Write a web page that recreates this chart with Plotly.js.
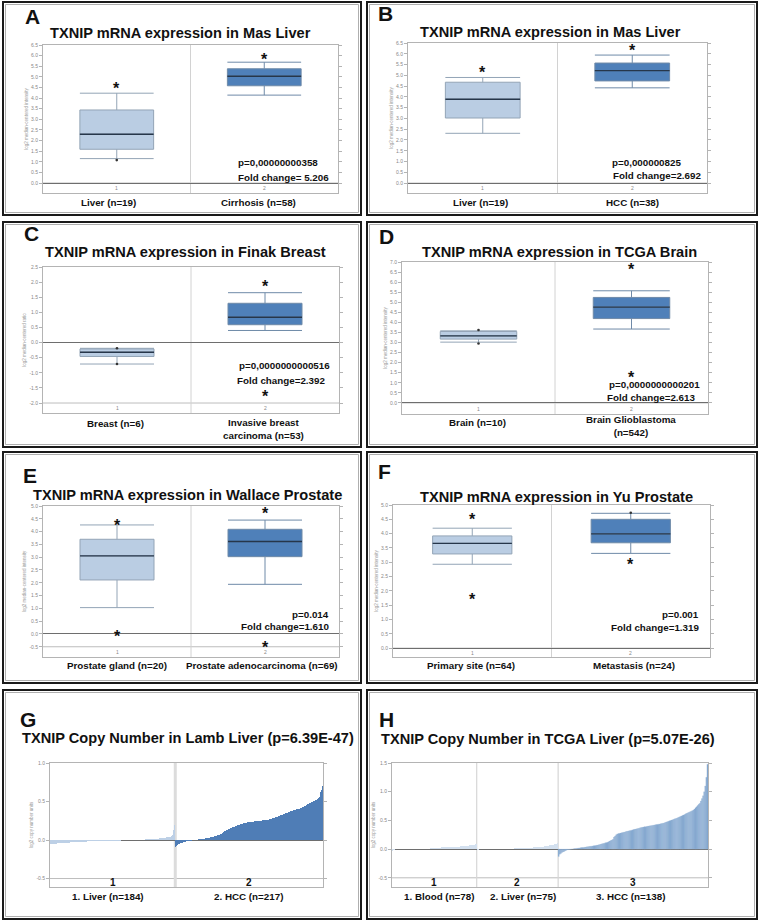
<!DOCTYPE html>
<html><head><meta charset="utf-8">
<script src="https://cdn.plot.ly/plotly-3.0.1.min.js"></script>
<style>html,body{margin:0;padding:0;background:#fff}#chart{width:760px;height:923px}</style>
</head><body><div id="chart"></div>
<script>
// ---------------- DATA ----------------
// Panel A: Mas Liver (Liver vs Cirrhosis)
const A_title = 'TXNIP mRNA expression in Mas Liver';
const A_cats = ['Liver (n=19)', 'Cirrhosis (n=58)'];
const A_low = [1.15, 4.14], A_q1 = [1.59, 4.58], A_med = [2.30, 5.03], A_q3 = [3.44, 5.38], A_high = [4.23, 5.69];
const A_starX = [1, 2], A_starY = [4.58, 5.96];
const A_dotX = [1], A_dotY = [1.08];
const A_p = 'p=0,00000000358', A_fc = 'Fold change= 5.206';
const A_ticks = [0, 0.5, 1, 1.5, 2, 2.5, 3, 3.5, 4, 4.5, 5, 5.5, 6, 6.5];

// Panel B: Mas Liver (Liver vs HCC)
const B_title = 'TXNIP mRNA expression in Mas Liver';
const B_cats = ['Liver (n=19)', 'HCC (n=38)'];
const B_low = [2.31, 4.42], B_q1 = [3.02, 4.74], B_med = [3.89, 5.22], B_q3 = [4.68, 5.57], B_high = [4.90, 5.94];
const B_starX = [1, 2], B_starY = [5.29, 6.27];
const B_dotX = [], B_dotY = [];
const B_p = 'p=0,000000825', B_fc = 'Fold change=2.692';
const B_ticks = [0, 0.5, 1, 1.5, 2, 2.5, 3, 3.5, 4, 4.5, 5, 5.5, 6, 6.5];

// Panel C: Finak Breast
const C_title = 'TXNIP mRNA expression in Finak Breast';
const C_cats = ['Breast (n=6)', 'Invasive breast<br>carcinoma (n=53)'];
const C_low = [-0.71, 0.40], C_q1 = [-0.46, 0.59], C_med = [-0.32, 0.84], C_q3 = [-0.21, 1.30], C_high = [-0.19, 1.65];
const C_starX = [2, 2], C_starY = [1.94, -1.70];
const C_dotX = [1, 1], C_dotY = [-0.19, -0.71];
const C_p = 'p=0,0000000000516', C_fc = 'Fold change=2.392';
const C_ticks = [-2, -1.5, -1, -0.5, 0, 0.5, 1, 1.5, 2, 2.5];

// Panel D: TCGA Brain
const D_title = 'TXNIP mRNA expression in TCGA Brain';
const D_cats = ['Brain (n=10)', 'Brain Glioblastoma<br>(n=542)'];
const D_low = [3.02, 3.67], D_q1 = [3.17, 4.19], D_med = [3.33, 4.76], D_q3 = [3.55, 5.24], D_high = [3.58, 5.57];
const D_starX = [2, 2], D_starY = [6.78, 1.39];
const D_dotX = [1, 1], D_dotY = [3.62, 2.95];
const D_p = 'p=0,0000000000201', D_fc = 'Fold change=2.613';
const D_ticks = [0, 0.5, 1, 1.5, 2, 2.5, 3, 3.5, 4, 4.5, 5, 5.5, 6, 6.5, 7];

// Panel E: Wallace Prostate
const E_title = 'TXNIP mRNA expression in Wallace Prostate';
const E_cats = ['Prostate gland (n=20)', 'Prostate adenocarcinoma (n=69)'];
const E_low = [1.03, 1.94], E_q1 = [2.11, 3.02], E_med = [3.05, 3.61], E_q3 = [3.70, 4.09], E_high = [4.26, 4.45];
const E_starX = [1, 1, 2, 2], E_starY = [4.36, 0.03, 4.84, -0.43];
const E_dotX = [], E_dotY = [];
const E_p = 'p=0.014', E_fc = 'Fold change=1.610';
const E_ticks = [-0.5, 0, 0.5, 1, 1.5, 2, 2.5, 3, 3.5, 4, 4.5, 5];

// Panel F: Yu Prostate
const F_title = 'TXNIP mRNA expression in Yu Prostate';
const F_cats = ['Primary site (n=64)', 'Metastasis (n=24)'];
const F_low = [2.93, 3.31], F_q1 = [3.29, 3.68], F_med = [3.66, 3.99], F_q3 = [3.92, 4.50], F_high = [4.19, 4.71];
const F_starX = [1, 1, 2], F_starY = [4.59, 1.79, 3.02];
const F_dotX = [2], F_dotY = [4.73];
const F_p = 'p=0.001', F_fc = 'Fold change=1.319';
const F_ticks = [0, 0.5, 1, 1.5, 2, 2.5, 3, 3.5, 4, 4.5, 5];

// Panel G: Lamb Liver copy number (sorted per sample)
const G_title = 'TXNIP Copy Number in Lamb Liver (p=6.39E-47)';
const G_groups = ['1. Liver (n=184)', '2. HCC (n=217)'];
const G_liver = [
 -0.055,-0.053,-0.052,-0.051,-0.050,-0.049,-0.048,-0.047,-0.046,-0.046,-0.045,-0.044,-0.043,-0.042,-0.041,-0.041,-0.040,-0.039,-0.038,-0.038,-0.037,-0.036,-0.036,-0.035,
 -0.035,-0.034,-0.034,-0.033,-0.033,-0.032,-0.032,-0.031,-0.030,-0.030,-0.029,-0.029,-0.028,-0.028,-0.027,-0.027,-0.026,-0.026,-0.025,-0.025,-0.024,-0.024,-0.023,-0.023,-0.022,
 -0.022,-0.022,-0.021,-0.021,-0.020,-0.020,-0.019,-0.019,-0.019,-0.018,-0.018,-0.017,-0.017,-0.017,-0.016,-0.016,-0.015,-0.015,-0.015,-0.014,-0.014,-0.014,-0.013,-0.013,
 -0.013,-0.013,-0.013,-0.012,-0.012,-0.012,-0.012,-0.012,-0.011,-0.011,-0.011,-0.011,-0.011,-0.010,-0.010,-0.010,-0.010,-0.010,-0.010,-0.009,-0.009,-0.009,-0.009,-0.009,-0.009,
 -0.008,-0.008,-0.008,-0.007,-0.007,-0.007,-0.006,-0.006,-0.006,-0.005,-0.005,-0.005,-0.004,-0.004,-0.004,-0.003,-0.003,-0.003,-0.002,-0.002,-0.002,-0.001,-0.001,0.000,
 0.000,0.001,0.001,0.001,0.002,0.002,0.002,0.003,0.003,0.003,0.004,0.004,0.005,0.005,0.005,0.006,0.006,0.007,0.007,0.008,0.008,0.009,0.009,0.010,
 0.010,0.011,0.011,0.012,0.012,0.013,0.014,0.014,0.015,0.016,0.016,0.017,0.018,0.019,0.020,
 0.021,0.022,0.023,0.024,0.025,0.026,0.027,0.029,0.030,0.031,0.033,0.035,
 0.036,0.038,0.040,0.042,0.045,
 0.050,0.070,0.090,0.130,0.200,0.330];
const G_hcc = [
 -0.085,-0.075,-0.068,-0.062,-0.057,-0.052,-0.048,-0.044,-0.040,-0.037,-0.034,-0.031,-0.028,-0.025,-0.023,-0.021,
 -0.019,-0.017,-0.015,-0.013,-0.012,-0.010,-0.009,-0.007,-0.006,-0.005,-0.003,-0.002,-0.001,0.000,0.002,0.003,0.005,0.006,0.008,0.009,
 0.010,0.012,0.013,0.015,0.016,0.018,0.019,0.021,0.022,0.024,0.025,0.027,0.028,0.030,0.032,0.033,0.035,0.037,0.039,
 0.040,0.043,0.046,0.049,0.052,0.055,0.058,0.061,0.064,0.067,
 0.070,0.077,0.084,0.090,0.096,0.102,0.108,0.114,0.120,0.126,
 0.130,0.134,0.138,0.142,0.146,0.150,0.154,0.158,0.162,0.166,
 0.170,0.174,0.178,0.181,0.185,0.188,0.192,0.195,0.198,0.201,0.204,0.207,0.210,0.213,0.217,
 0.220,0.222,0.223,0.225,0.226,0.227,0.228,0.230,0.231,0.232,0.234,0.235,0.237,0.239,
 0.240,0.241,0.242,0.243,0.244,0.245,0.246,0.247,0.248,0.249,0.250,0.251,0.252,0.253,0.254,0.255,0.256,0.257,0.258,0.259,
 0.260,0.263,0.266,0.268,0.271,0.274,0.276,0.279,0.282,0.284,0.287,0.290,0.293,0.296,0.298,
 0.300,0.304,0.308,0.312,0.316,0.319,0.323,0.327,0.331,0.335,0.338,0.342,0.346,0.350,0.354,0.357,0.361,0.365,0.368,
 0.370,0.373,0.376,0.378,0.381,0.384,0.386,0.389,0.392,0.394,0.397,0.400,0.403,0.405,0.408,
 0.410,0.415,0.420,0.424,0.429,0.434,0.438,0.443,0.448,0.452,0.457,0.462,0.466,0.471,0.476,
 0.480,0.485,0.490,0.495,0.500,0.505,0.510,0.515,0.520,0.525,0.530,0.535,
 0.540,0.560,0.590,0.620,0.650,0.680,0.700];
const G_ticks = [-0.5, 0, 0.5, 1];

// Panel H: TCGA Liver copy number
const H_title = 'TXNIP Copy Number in TCGA Liver (p=5.07E-26)';
const H_groups = ['1. Blood (n=78)', '2. Liver (n=75)', '3. HCC (n=138)'];
const H_blood = [
 -0.035,-0.020,-0.010,-0.006,-0.004,-0.002,
 -0.001,0.000,0.000,0.000,0.001,0.001,0.001,0.001,0.002,0.002,0.002,0.002,0.003,0.003,0.003,0.003,0.003,0.004,0.004,0.004,0.004,0.005,0.005,0.005,0.005,0.005,
 0.006,0.008,0.010,0.012,0.013,0.015,0.017,0.018,0.020,0.022,0.024,0.025,0.027,0.029,
 0.030,0.031,0.031,0.032,0.033,0.033,0.034,0.035,0.035,0.036,0.037,0.038,0.038,0.039,
 0.040,0.042,0.044,0.046,0.048,0.050,0.053,0.055,0.057,0.060,0.062,
 0.065,0.068,0.071,0.074,0.078,0.082,0.088];
const H_liver = [
 -0.010,-0.007,-0.005,-0.004,-0.003,-0.002,-0.002,-0.001,-0.001,0.000,
 0.000,0.000,0.001,0.001,0.001,0.001,0.002,0.002,0.002,0.002,0.003,0.003,0.003,0.003,0.004,0.004,0.004,0.005,
 0.005,0.006,0.007,0.008,0.009,0.010,0.011,0.012,0.013,0.014,0.015,0.016,0.017,0.018,0.019,0.020,
 0.021,0.022,0.023,0.024,0.025,0.026,0.027,0.028,0.029,0.030,0.031,0.032,0.034,0.036,0.038,0.040,
 0.042,0.044,0.047,0.050,0.053,0.056,0.060,0.064,0.068,
 0.072,0.077,0.082,0.087,0.093,0.100];
const H_hcc = [
 -0.130,-0.090,-0.075,-0.060,-0.050,-0.040,-0.030,-0.020,-0.012,-0.008,-0.005,
 -0.003,0.000,0.003,0.006,0.009,0.012,0.015,0.018,0.021,0.024,0.027,0.029,
 0.030,0.033,0.036,0.039,0.042,0.045,0.048,0.051,0.054,0.057,0.060,0.063,0.067,
 0.070,0.076,0.081,0.087,0.092,0.098,0.103,0.109,0.114,
 0.120,0.130,0.140,0.150,0.160,0.170,
 0.210,0.230,0.250,0.265,
 0.270,0.275,0.280,0.285,0.290,0.295,0.300,0.305,0.310,0.315,0.320,0.325,
 0.330,0.335,0.340,0.345,0.350,0.355,0.360,0.365,0.370,0.375,0.380,0.385,0.390,
 0.390,0.394,0.398,0.401,0.405,0.409,0.413,0.416,0.420,0.424,0.428,0.431,0.435,0.439,0.443,0.446,
 0.450,0.457,0.464,0.471,0.478,0.485,0.492,0.499,0.506,0.513,0.520,0.527,0.534,0.541,0.550,
 0.560,0.569,0.578,0.587,0.596,0.605,0.614,0.623,0.632,0.641,0.650,0.660,0.670,
 0.680,0.700,0.720,0.740,0.760,0.780,
 0.800,0.840,0.880,0.930,1.000,1.100,1.250,1.480];
const H_ticks = [-0.5, 0, 0.5, 1, 1.5];

// ---------------- LAYOUT / STYLE ----------------
const W = 760, HT = 923;
const px = x => x / W, py = y => 1 - y / HT;
const FONT = 'Liberation Sans, Arial, Helvetica, sans-serif';
const LC = '#b4b4b4';
const LIGHT = '#bacde3', DARK = '#4f80b9';
const BOXW = 0.5;

const data = [];
const annotations = [];
const shapes = [];
const layout = {
  width: W, height: HT, margin: {l: 0, r: 0, t: 0, b: 0},
  paper_bgcolor: '#fff', plot_bgcolor: '#fff', showlegend: false,
  bargap: 0, font: {family: FONT},
  annotations, shapes
};

function sfx(n) { return n === 1 ? '' : String(n); }

function addText(text, x, y, size, opts) {
  annotations.push(Object.assign({
    text, x: px(x), y: py(y), xref: 'paper', yref: 'paper', showarrow: false,
    xanchor: 'center', yanchor: 'middle', font: {family: FONT, size, color: '#111'}
  }, opts || {}));
}

function setupAxes(n, g, ticks, ytitle, xrange, zeroColor) {
  const s = sfx(n);
  layout['xaxis' + s] = {
    domain: [px(g.x0), px(g.x1)], range: xrange, anchor: 'y' + s,
    showline: true, mirror: true, linecolor: LC, linewidth: 1,
    showticklabels: false, ticks: '', showgrid: false, zeroline: false, fixedrange: true
  };
  layout['yaxis' + s] = {
    domain: [py(g.y1), py(g.y0)], range: g.yr, anchor: 'x' + s,
    showline: true, mirror: 'ticks', linecolor: LC, linewidth: 1,
    ticks: 'outside', ticklen: 3, tickcolor: LC, tickwidth: 1,
    tickvals: ticks, ticktext: ticks.map(v => v.toFixed(1)),
    tickfont: {family: FONT, size: 5, color: '#888'},
    showgrid: false, zeroline: true, zerolinecolor: zeroColor, zerolinewidth: 1,
    title: {text: ytitle, font: {family: FONT, size: 4.5, color: '#999'}, standoff: 2},
    fixedrange: true
  };
  // separator at lowest tick (top of the category strip)
  shapes.push({type: 'line', xref: 'x' + s + ' domain', yref: 'y' + s, x0: 0, x1: 1,
    y0: ticks[0], y1: ticks[0], line: {color: '#bdbdbd', width: 1}, layer: 'below'});
}

function boxPanel(n, g, d) {
  const s = sfx(n);
  setupAxes(n, g, d.ticks, d.ytitle, [0.5, 2.5], '#6e6e6e');
  shapes.push({type: 'line', xref: 'x' + s, yref: 'y' + s + ' domain', x0: 1.5, x1: 1.5, y0: 0, y1: 1,
    line: {color: '#d2d2d2', width: 1}, layer: 'below'});
  [0, 1].forEach(i => {
    data.push({
      type: 'box', xaxis: 'x' + s, yaxis: 'y' + s, x: [i + 1],
      q1: [d.q1[i]], median: [d.med[i]], q3: [d.q3[i]],
      lowerfence: [d.low[i]], upperfence: [d.high[i]],
      width: BOXW, whiskerwidth: 1, boxpoints: false,
      fillcolor: i === 0 ? LIGHT : DARK,
      line: {color: i === 0 ? '#93a4b6' : '#6f8aa8', width: 1},
      hoverinfo: 'skip'
    });
  });
  // median lines (darker)
  const mx = [], my = [];
  d.med.forEach((m, i) => { mx.push(i + 1 - BOXW / 2, i + 1 + BOXW / 2, null); my.push(m, m, null); });
  data.push({type: 'scatter', mode: 'lines', xaxis: 'x' + s, yaxis: 'y' + s, x: mx, y: my,
    line: {color: '#26364a', width: 1.4}, hoverinfo: 'skip'});
  if (d.dotX.length) data.push({type: 'scatter', mode: 'markers', xaxis: 'x' + s, yaxis: 'y' + s,
    x: d.dotX, y: d.dotY, marker: {size: 2.6, color: '#333'}, hoverinfo: 'skip'});
  d.starX.forEach((x, i) => annotations.push({
    text: '<b>*</b>', x, y: d.starY[i], xref: 'x' + s, yref: 'y' + s, showarrow: false,
    xanchor: 'center', yanchor: 'middle', yshift: -3, font: {family: FONT, size: 16, color: '#111'}
  }));
  // strip numbers
  ['1', '2'].forEach((t, i) => annotations.push({
    text: t, x: i + 1, y: py(g.stripY), xref: 'x' + s, yref: 'paper', showarrow: false,
    xanchor: 'center', yanchor: 'middle', font: {family: FONT, size: 5, color: '#888'}
  }));
}

// panel geometry in pixels
const geo = {
  A: {x0: 43, x1: 338, y0: 45, y1: 193, yr: [-0.47, 6.5], stripY: 188},
  B: {x0: 408, x1: 707, y0: 43, y1: 193, yr: [-0.46, 6.5], stripY: 188},
  C: {x0: 43, x1: 339, y0: 267, y1: 413, yr: [-2.33, 2.5], stripY: 408},
  D: {x0: 402, x1: 708, y0: 262, y1: 414, yr: [-0.55, 7.0], stripY: 409},
  E: {x0: 43, x1: 339, y0: 506, y1: 657, yr: [-0.9, 5.0], stripY: 652},
  F: {x0: 393, x1: 710, y0: 505, y1: 657, yr: [-0.31, 5.0], stripY: 653},
  G: {x0: 50, x1: 323, y0: 763, y1: 887, yr: [-0.61, 1.0], stripY: 882},
  H: {x0: 392, x1: 708, y0: 763, y1: 887, yr: [-0.66, 1.5], stripY: 882}
};

const INT = 'log2 median-centered intensity';
boxPanel(1, geo.A, {low: A_low, q1: A_q1, med: A_med, q3: A_q3, high: A_high, starX: A_starX, starY: A_starY, dotX: A_dotX, dotY: A_dotY, ticks: A_ticks, ytitle: INT});
boxPanel(2, geo.B, {low: B_low, q1: B_q1, med: B_med, q3: B_q3, high: B_high, starX: B_starX, starY: B_starY, dotX: B_dotX, dotY: B_dotY, ticks: B_ticks, ytitle: INT});
boxPanel(3, geo.C, {low: C_low, q1: C_q1, med: C_med, q3: C_q3, high: C_high, starX: C_starX, starY: C_starY, dotX: C_dotX, dotY: C_dotY, ticks: C_ticks, ytitle: 'log2 median-centered ratio'});
boxPanel(4, geo.D, {low: D_low, q1: D_q1, med: D_med, q3: D_q3, high: D_high, starX: D_starX, starY: D_starY, dotX: D_dotX, dotY: D_dotY, ticks: D_ticks, ytitle: INT});
boxPanel(5, geo.E, {low: E_low, q1: E_q1, med: E_med, q3: E_q3, high: E_high, starX: E_starX, starY: E_starY, dotX: E_dotX, dotY: E_dotY, ticks: E_ticks, ytitle: INT});
boxPanel(6, geo.F, {low: F_low, q1: F_q1, med: F_med, q3: F_q3, high: F_high, starX: F_starX, starY: F_starY, dotX: F_dotX, dotY: F_dotY, ticks: F_ticks, ytitle: INT});

// copy-number panels
function cnPanel(n, g, groups, colors, ticks, lineCols, divCol, divW) {
  const s = sfx(n);
  const total = groups.reduce((a, b) => a + b.length, 0);
  setupAxes(n, g, ticks, 'log2 copy number units', [-0.5, total - 0.5], '#6e6e6e');
  let off = 0;
  const centers = [];
  groups.forEach((vals, gi) => {
    data.push({type: 'bar', xaxis: 'x' + s, yaxis: 'y' + s,
      x: vals.map((v, i) => i + off), y: vals,
      marker: {color: colors[gi], line: {width: lineCols[gi] ? 0.25 : 0, color: lineCols[gi] || colors[gi]}},
      hoverinfo: 'skip'});
    centers.push(off + (vals.length - 1) / 2);
    off += vals.length;
    if (gi < groups.length - 1) shapes.push({type: 'line', xref: 'x' + s, yref: 'y' + s + ' domain',
      x0: off - 0.5, x1: off - 0.5, y0: 0, y1: 1, line: {color: divCol, width: divW}, layer: 'below'});
  });
  centers.forEach((c, i) => annotations.push({
    text: '<b>' + (i + 1) + '</b>', x: c, y: py(g.stripY), xref: 'x' + s, yref: 'paper', showarrow: false,
    xanchor: 'center', yanchor: 'middle', font: {family: FONT, size: 10, color: '#111'}
  }));
}
cnPanel(7, geo.G, [G_liver, G_hcc], ['#bdd0e6', '#4f7db6'], G_ticks, [null, null], '#dcdcdc', 3);
cnPanel(8, geo.H, [H_blood, H_liver, H_hcc], ['#d3e0ef', '#d3e0ef', '#789fcb'], H_ticks, [null, null, '#a9c1dd'], '#d6d6d6', 1.2);

// panel borders
[[3, 2, 361, 215], [367, 2, 757, 215], [3, 222, 361, 447], [367, 222, 757, 447],
 [3, 452, 361, 683], [367, 452, 757, 683], [3, 690, 361, 919], [367, 690, 757, 919]].forEach(b => {
  shapes.push({type: 'rect', xref: 'paper', yref: 'paper', x0: px(b[0]), x1: px(b[2]), y0: py(b[3]), y1: py(b[1]),
    line: {color: '#1a1a1a', width: 2}});
  shapes.push({type: 'rect', xref: 'paper', yref: 'paper', x0: px(b[0] + 2.5), x1: px(b[2] - 2.5), y0: py(b[3] - 2.5), y1: py(b[1] + 2.5),
    line: {color: '#9a9a9a', width: 0.8}});
});

// letters and titles
const TS = 14.6, LS = 21, CS = 9.8;
[['A', 32, 16, A_title, 180, 33], ['B', 385, 14, B_title, 550, 32],
 ['C', 31, 233, C_title, 185, 252], ['D', 386, 236, D_title, 559, 252],
 ['E', 30, 475, E_title, 187, 495], ['F', 384, 471, F_title, 556, 497],
 ['G', 28, 719, G_title, 188, 738], ['H', 386, 719, H_title, 548, 739]].forEach(r => {
  addText('<b>' + r[0] + '</b>', r[1], r[2], LS);
  addText('<b>' + r[3] + '</b>', r[4], r[5], TS);
});

// category labels
const catPos = [
  [A_cats, [[108, 202], [258, 202]]],
  [B_cats, [[480, 202], [632, 202]]],
  [C_cats, [[115, 423], [263, 429]]],
  [D_cats, [[477, 422], [631, 426]]],
  [E_cats, [[117, 665], [262, 665]]],
  [F_cats, [[471, 665], [634, 665]]],
  [G_groups, [[108, 896], [248, 896]]],
  [H_groups, [[439, 896], [523, 896], [630, 896]]]
];
catPos.forEach(([labels, pos]) => labels.forEach((t, i) => addText('<b>' + t + '</b>', pos[i][0], pos[i][1], CS)));

// p-values and fold changes
[[A_p, 320, 163, A_fc, 331, 177], [B_p, 683, 162, B_fc, 703, 175],
 [C_p, 332, 365, C_fc, 327, 381], [D_p, 702, 384, D_fc, 697, 397],
 [E_p, 331, 614, E_fc, 331, 626], [F_p, 701, 614, F_fc, 701, 627]].forEach(r => {
  addText('<b>' + r[0] + '</b>', r[1], r[2], CS, {xanchor: 'right'});
  addText('<b>' + r[3] + '</b>', r[4], r[5], CS, {xanchor: 'right'});
});

Plotly.newPlot('chart', data, layout, {staticPlot: true, displayModeBar: false});
</script>
</body></html>
